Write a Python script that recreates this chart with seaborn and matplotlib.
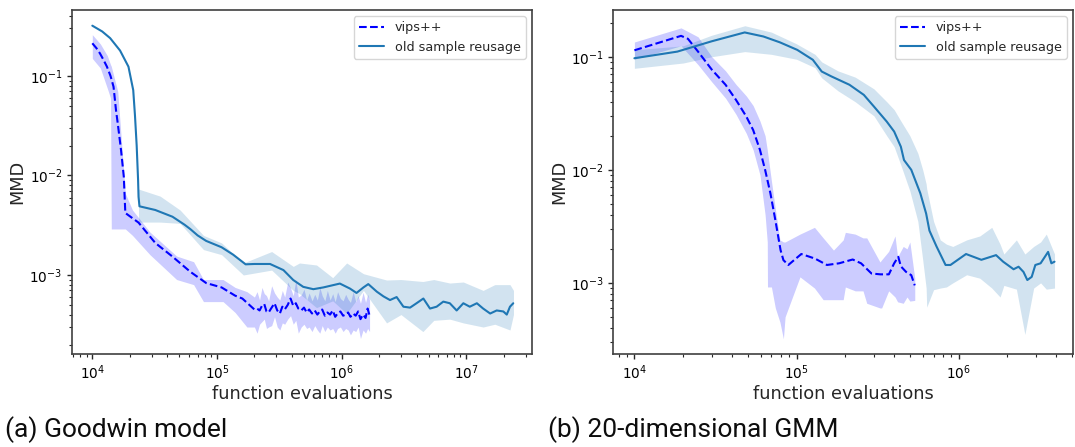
import matplotlib
matplotlib.use("Agg")
import matplotlib.pyplot as plt
import seaborn as sns

# ---------------- (a) Goodwin model ----------------
a_vips_x = [1.0e4, 1.08e4, 1.15e4, 1.23e4, 1.31e4, 1.4e4, 1.48e4, 1.55e4, 1.6e4, 1.7e4,
            1.79e4, 1.84e4,
            2.35e4, 3.2e4, 4.4e4, 6.1e4, 8.2e4, 1.09e5, 1.4e5, 1.6e5,
            2.0e5, 2.1e5, 2.2e5, 2.3e5, 2.4e5, 2.5e5, 2.6e5, 2.75e5, 2.9e5, 3.05e5,
            3.2e5, 3.35e5, 3.5e5, 3.7e5, 3.9e5, 4.1e5, 4.3e5, 4.5e5, 4.75e5, 5.0e5,
            5.25e5, 5.5e5, 5.8e5, 6.1e5, 6.4e5, 6.7e5, 7.0e5, 7.35e5, 7.7e5, 8.1e5,
            8.5e5, 8.9e5, 9.3e5, 9.8e5, 1.03e6, 1.08e6, 1.13e6, 1.18e6, 1.24e6, 1.3e6,
            1.36e6, 1.42e6, 1.49e6, 1.56e6, 1.62e6, 1.68e6]
a_vips_y = [0.213, 0.19, 0.169, 0.145, 0.124, 0.1, 0.078, 0.045, 0.0334, 0.018,
            0.0097, 0.0042,
            0.00336, 0.0021, 0.00153, 0.00108, 0.00083, 0.00075, 0.00062, 0.00058,
            4.5e-4, 4.6e-4, 4.4e-4, 4.9e-4, 5.1e-4, 4.3e-4, 4.2e-4, 4.7e-4, 5.2e-4, 4.4e-4,
            4.1e-4, 4.8e-4, 4.5e-4, 5.0e-4, 5.8e-4, 4.9e-4, 5.2e-4, 4.6e-4, 4.4e-4, 4.7e-4,
            4.2e-4, 4.5e-4, 4.1e-4, 4.4e-4, 4.0e-4, 4.3e-4, 4.5e-4, 3.9e-4, 4.2e-4, 4.0e-4,
            4.4e-4, 3.8e-4, 4.1e-4, 4.3e-4, 3.9e-4, 4.0e-4, 4.2e-4, 3.8e-4, 4.1e-4, 3.9e-4,
            4.3e-4, 3.6e-4, 4.0e-4, 3.7e-4, 4.6e-4, 3.9e-4]

a_vips_band_x = [1.0e4, 1.16e4, 1.32e4, 1.40e4, 1.42e4, 1.6e4, 1.84e4, 2.1e4, 2.9e4,
                 4.75e4, 6.5e4, 7.8e4, 1.12e5, 1.4e5, 1.74e5] + a_vips_x[20:]
a_vips_hi = [0.26, 0.21, 0.16, 0.13, 0.125, 0.07, 0.0066, 0.0045, 0.0027,
             0.00155, 0.00136, 0.0009, 0.0009, 0.00075, 0.00068,
             6.0e-4, 6.8e-4, 5.6e-4, 7.5e-4, 6.5e-4, 6.2e-4, 5.5e-4, 7.8e-4, 6.6e-4, 6.0e-4,
             5.6e-4, 7.0e-4, 6.0e-4, 8.5e-4, 7.4e-4, 6.2e-4, 9.0e-4, 6.0e-4, 6.3e-4, 7.2e-4,
             5.6e-4, 6.6e-4, 5.5e-4, 6.4e-4, 5.6e-4, 7.5e-4, 6.2e-4, 5.5e-4, 7.0e-4, 5.6e-4,
             6.5e-4, 5.4e-4, 6.8e-4, 5.8e-4, 5.5e-4, 6.4e-4, 5.7e-4, 5.3e-4, 6.8e-4, 5.4e-4,
             6.2e-4, 5.2e-4, 6.7e-4, 5.3e-4, 6.4e-4, 5.6e-4]
a_vips_lo = [0.15, 0.12, 0.075, 0.06, 0.0029, 0.0029, 0.0029, 0.0025, 0.0016,
             0.0009, 0.0008, 0.00054, 0.00054, 0.00042, 0.0003,
             3.0e-4, 2.6e-4, 3.2e-4, 3.4e-4, 3.6e-4, 2.9e-4, 3.0e-4, 3.1e-4, 3.8e-4, 3.0e-4,
             2.8e-4, 3.3e-4, 3.2e-4, 3.6e-4, 3.9e-4, 3.2e-4, 3.5e-4, 2.6e-4, 3.0e-4, 3.2e-4,
             2.9e-4, 3.0e-4, 2.7e-4, 3.1e-4, 2.8e-4, 2.6e-4, 3.1e-4, 2.7e-4, 3.0e-4, 2.8e-4,
             2.9e-4, 2.6e-4, 2.9e-4, 3.0e-4, 2.7e-4, 2.9e-4, 2.8e-4, 2.5e-4, 2.8e-4, 2.7e-4,
             3.0e-4, 2.3e-4, 2.8e-4, 2.6e-4, 2.9e-4, 2.7e-4]

a_old_x = [1.0e4, 1.2e4, 1.39e4, 1.67e4, 1.95e4, 2.13e4, 2.2e4, 2.27e4, 2.33e4, 2.35e4,
           2.39e4, 3.2e4, 4.4e4, 5.5e4, 6.1e4, 7.0e4, 8.2e4, 1.09e5, 1.35e5, 1.7e5,
           2.0e5, 2.67e5, 3.42e5, 4.1e5, 4.93e5, 5.94e5, 7.15e5, 9.7e5, 1.17e6, 1.32e6,
           1.5e6, 1.64e6, 1.92e6, 2.17e6, 2.45e6, 2.77e6, 3.14e6, 3.55e6, 4.0e6, 4.54e6,
           5.13e6, 5.8e6, 6.56e6, 7.4e6, 8.4e6, 9.5e6, 1.07e7, 1.22e7, 1.37e7, 1.56e7,
           1.76e7, 1.99e7, 2.12e7, 2.25e7, 2.39e7]
a_old_y = [0.32, 0.28, 0.24, 0.18, 0.124, 0.072, 0.04, 0.02, 0.009, 0.0061,
           0.0049, 0.0045, 0.00385, 0.0032, 0.0029, 0.0025, 0.0022, 0.0019, 0.0016, 0.00128,
           0.00129, 0.00129, 0.00112, 0.00089, 0.00076, 0.00072, 0.00075, 0.00082, 0.00073, 0.00066,
           0.00075, 0.00081, 0.00068, 0.00061, 0.00056, 0.0006, 0.00048, 0.00047, 0.00052, 0.00058,
           0.00046, 0.00048, 0.00054, 0.00052, 0.00044, 0.00052, 0.00048, 0.00052, 0.00046, 0.00041,
           0.00044, 0.00043, 0.0004, 0.00048, 0.00052]

a_old_band_x = [2.35e4, 2.43e4, 3.5e4, 5.06e4, 7.8e4, 1.09e5, 1.63e5, 2.75e5, 4.1e5,
                4.6e5, 6.3e5, 8.5e5, 1.1e6, 1.5e6, 2.3e6, 3.0e6, 4.5e6, 5.5e6,
                7.4e6, 9.5e6, 1.37e7, 1.7e7, 2.25e7, 2.4e7]
a_old_hi = [0.0073, 0.0072, 0.0062, 0.0045, 0.0025, 0.0021, 0.00132, 0.00172, 0.00122,
            0.00132, 0.00126, 0.00094, 0.00132, 0.00103, 0.00089, 0.0009, 0.00086, 0.0009,
            0.00083, 0.00085, 0.0007, 0.0008, 0.0008, 0.0007]
a_old_lo = [0.0034, 0.0034, 0.0034, 0.0033, 0.0018, 0.0016, 0.001, 0.00112, 0.0007,
            0.00065, 0.00047, 0.00055, 0.00041, 0.0007, 0.00033, 0.0004, 0.00027, 0.00035,
            0.00036, 0.00033, 0.0003, 0.00032, 0.00028, 0.0004]

# ---------------- (b) 20-dimensional GMM ----------------
b_vips_x = [1.0e4, 1.94e4, 2.14e4, 2.47e4, 3.0e4, 3.65e4, 4.23e4, 4.9e4, 5.4e4, 5.95e4,
            6.4e4, 6.9e4, 7.4e4, 7.97e4, 8.3e4, 8.9e4, 1.07e5, 1.3e5, 1.54e5, 1.83e5,
            2.22e5, 2.5e5, 2.9e5, 3.29e5, 3.71e5, 4.0e5, 4.24e5, 4.4e5, 4.74e5, 5.1e5, 5.36e5]
b_vips_y = [0.114, 0.153, 0.144, 0.111, 0.077, 0.0565, 0.0416, 0.0296, 0.0225, 0.015,
            0.01, 0.0062, 0.0036, 0.00195, 0.00159, 0.00144, 0.0018, 0.00164, 0.00144, 0.00149,
            0.00161, 0.00149, 0.00121, 0.00119, 0.00119, 0.00149, 0.0017, 0.0014, 0.00125,
            0.00117, 0.00095]

b_vips_band_x = [1.0e4, 1.94e4, 2.47e4, 3.0e4, 3.65e4, 4.23e4, 4.9e4, 5.4e4, 5.95e4, 6.4e4,
                 6.6e4, 6.62e4, 7.0e4, 7.4e4, 7.9e4, 8.3e4, 8.5e4, 1.05e5, 1.29e5, 1.46e5,
                 1.69e5, 1.94e5, 2.0e5, 2.3e5, 2.57e5, 2.71e5, 3.27e5, 3.35e5, 3.7e5, 4.05e5,
                 4.2e5, 4.55e5, 4.8e5, 5.0e5, 5.36e5]
b_vips_hi = [0.135, 0.18, 0.15, 0.1, 0.075, 0.057, 0.045, 0.037, 0.027, 0.02,
             0.015, 0.0145, 0.008, 0.0045, 0.0024, 0.0023, 0.0023, 0.0027, 0.0031, 0.0025,
             0.00195, 0.0024, 0.0028, 0.0027, 0.0025, 0.0025, 0.00153, 0.0016, 0.0019, 0.0026,
             0.0017, 0.0021, 0.002, 0.0023, 0.0011]
b_vips_lo = [0.095, 0.125, 0.085, 0.06, 0.043, 0.031, 0.021, 0.015, 0.009, 0.004,
             0.0023, 0.00092, 0.00092, 0.0006, 0.00045, 0.00032, 0.0005, 0.00113, 0.0009,
             0.00071, 0.00071, 0.00071, 0.00092, 0.00085, 0.00085, 0.00066, 0.0006, 0.0006,
             0.00085, 0.00075, 0.00068, 0.00066, 0.00075, 0.00069, 0.0007]

b_old_x = [1.0e4, 1.84e4, 3.0e4, 4.79e4, 6.25e4, 7.9e4, 1.01e5, 1.26e5, 1.43e5, 1.64e5,
           2.12e5, 2.6e5, 3.0e5, 3.6e5, 4.0e5, 4.4e5, 4.6e5, 5.1e5, 5.8e5, 6.3e5, 6.6e5,
           7.3e5, 8.3e5, 8.9e5, 1.11e6, 1.38e6, 1.7e6, 1.88e6, 2.18e6, 2.34e6, 2.51e6,
           2.65e6, 2.82e6, 2.97e6, 3.2e6, 3.4e6, 3.56e6, 3.73e6, 3.9e6]
b_old_y = [0.097, 0.111, 0.137, 0.164, 0.151, 0.134, 0.115, 0.094, 0.074, 0.067,
           0.0565, 0.046, 0.0363, 0.0267, 0.0218, 0.016, 0.0122, 0.01, 0.0062, 0.0041, 0.0029,
           0.0021, 0.00144, 0.00144, 0.0018, 0.0016, 0.00176, 0.00154, 0.00132, 0.00139, 0.00125,
           0.00106, 0.00113, 0.00144, 0.00149, 0.0017, 0.00188, 0.00149, 0.00154]

b_old_band_x = [1.0e4, 2.0e4, 3.0e4, 4.8e4, 7.0e4, 1.0e5, 1.3e5, 1.43e5, 1.8e5, 2.3e5,
                3.0e5, 3.6e5, 4.0e5, 4.4e5, 5.0e5, 5.6e5, 6.0e5, 6.3e5, 6.35e5, 7.0e5,
                7.7e5, 8.4e5, 9.2e5, 1.12e6, 1.35e6, 1.6e6, 1.8e6, 1.9e6, 2.27e6, 2.56e6,
                2.9e6, 3.2e6, 3.47e6, 3.9e6]
b_old_hi = [0.115, 0.125, 0.155, 0.188, 0.165, 0.13, 0.105, 0.09, 0.075, 0.066,
            0.052, 0.04, 0.034, 0.027, 0.02, 0.014, 0.01, 0.0075, 0.0068, 0.0035,
            0.0024, 0.0022, 0.0021, 0.0024, 0.0026, 0.0031, 0.0022, 0.0018, 0.0024, 0.0018,
            0.0021, 0.0023, 0.0027, 0.0018]
b_old_lo = [0.079, 0.088, 0.1, 0.111, 0.105, 0.095, 0.08, 0.065, 0.05, 0.04,
            0.03, 0.02, 0.016, 0.011, 0.0065, 0.0035, 0.0016, 0.0009, 0.00061, 0.00087,
            0.0009, 0.00092, 0.001, 0.00118, 0.0011, 0.0009, 0.00075, 0.00095, 0.00088,
            0.00035, 0.0009, 0.001, 0.00088, 0.0009]

VIPS_COLOR = "#0000ff"
OLD_COLOR = "#1f77b4"

sns.set_style("ticks", {"axes.edgecolor": "0.25", "xtick.color": "0.15",
                        "ytick.color": "0.15"})
plt.rcParams["font.family"] = ["DejaVu Sans"]
plt.rcParams["axes.linewidth"] = 1.2

fig = plt.figure(figsize=(10.75, 4.47), dpi=100)
ax_a = fig.add_axes([72 / 1075, 1 - 354 / 447, 460 / 1075, 344 / 447])
ax_b = fig.add_axes([613.3 / 1075, 1 - 354 / 447, 459.7 / 1075, 344 / 447])


def draw_panel(ax, vips, vips_band, old, old_band, xlim, ylim):
    ax.fill_between(vips_band[0], vips_band[1], vips_band[2],
                    color=VIPS_COLOR, alpha=0.2, linewidth=0)
    ax.fill_between(old_band[0], old_band[1], old_band[2],
                    color=OLD_COLOR, alpha=0.2, linewidth=0)
    sns.lineplot(x=vips[0], y=vips[1], ax=ax, color=VIPS_COLOR, linestyle="--",
                 linewidth=1.5, label="vips++", sort=False, estimator=None)
    sns.lineplot(x=old[0], y=old[1], ax=ax, color=OLD_COLOR, linewidth=1.5,
                 label="old sample reusage", sort=False, estimator=None)
    ax.set(xscale="log", yscale="log")
    ax.set_xlim(*xlim)
    ax.set_ylim(*ylim)
    ax.set_xlabel("function evaluations", fontsize=12.8, labelpad=2)
    ax.set_ylabel("MMD", fontsize=12.8, labelpad=2)
    ax.tick_params(axis="both", which="major", labelsize=9.8, length=3.5, width=1,
                   labelcolor="black")
    ax.tick_params(axis="both", which="minor", length=2, width=0.8)
    leg = ax.legend(loc="upper right", fontsize=9.2, frameon=True, fancybox=True)
    leg.get_frame().set_edgecolor("0.8")


draw_panel(ax_a, (a_vips_x, a_vips_y), (a_vips_band_x, a_vips_lo, a_vips_hi),
           (a_old_x, a_old_y), (a_old_band_x, a_old_lo, a_old_hi),
           (6870, 3.38e7), (1.607e-4, 0.46))
draw_panel(ax_b, (b_vips_x, b_vips_y), (b_vips_band_x, b_vips_lo, b_vips_hi),
           (b_old_x, b_old_y), (b_old_band_x, b_old_lo, b_old_hi),
           (7413, 5.07e6), (2.35e-4, 0.259))

fig.text(5 / 1075, 1 - 430 / 447, "(a) Goodwin model", family=["Roboto", "DejaVu Sans"],
         fontsize=19, va="center", ha="left", color="0.05")
fig.text(548 / 1075, 1 - 430 / 447, "(b) 20-dimensional GMM", family=["Roboto", "DejaVu Sans"],
         fontsize=19, va="center", ha="left", color="0.05")

fig.savefig("out.png", dpi=100)
